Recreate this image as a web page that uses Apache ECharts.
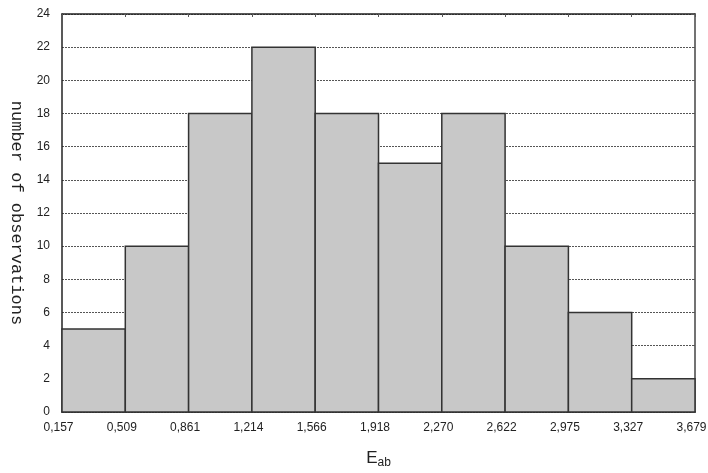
<!DOCTYPE html>
<html>
<head>
<meta charset="utf-8">
<script src="https://cdn.jsdelivr.net/npm/echarts@6/dist/echarts.min.js"></script>
<style>
  html, body { margin: 0; padding: 0; background: #fff; }
  #main { width: 708px; height: 473px; }
</style>
</head>
<body>
<div id="main"></div>
<script>
// bin edges (labels) and counts per bin
const edgeLabels = ['0,157', '0,509', '0,861', '1,214', '1,566', '1,918', '2,270', '2,622', '2,975', '3,327', '3,679'];
const counts = [5, 10, 18, 22, 18, 15, 18, 10, 6, 2];
const yTicks = [0, 2, 4, 6, 8, 10, 12, 14, 16, 18, 20, 22, 24];

let chart = echarts.init(document.getElementById('main'));

// each bin goes from index i to i+1 on the x axis
let bins = counts.map(function (c, i) { return [i, i + 1, c]; });

chart.setOption({
  animation: false,
  grid: { left: 62, right: 13, top: 14, bottom: 61, outerBoundsMode: 'none', containLabel: false },
  xAxis: [{
    type: 'value',
    min: 0,
    max: 10,
    interval: 1,
    position: 'bottom',
    axisLine: { onZero: false, lineStyle: { color: '#222', width: 1.5 } },
    axisTick: { show: false },
    splitLine: { show: false },
    axisLabel: {
      color: '#222', fontFamily: 'Liberation Sans', fontSize: 12, margin: 10,
      padding: [0, 7, 0, 0],
      formatter: function (v) { return edgeLabels[v]; }
    },
    name: '{e|E}{s|ab}',
    nameLocation: 'middle',
    nameGap: 36,
    nameTextStyle: {
      rich: {
        e: { fontFamily: 'Liberation Sans', fontSize: 17, color: '#222' },
        s: { fontFamily: 'Liberation Sans', fontSize: 12, color: '#222', verticalAlign: 'bottom', padding: [9, 0, 0, 0] }
      }
    }
  }, {
    type: 'value',
    min: 0,
    max: 10,
    interval: 1,
    position: 'top',
    axisLine: { show: true, onZero: false, lineStyle: { color: '#222', width: 1.5 } },
    axisTick: { show: true, inside: true, length: 3, lineStyle: { color: '#555' } },
    axisLabel: { show: false },
    splitLine: { show: false }
  }],
  yAxis: [{
    type: 'value',
    min: yTicks[0],
    max: yTicks[yTicks.length - 1],
    interval: 2,
    axisLine: { show: true, onZero: false, lineStyle: { color: '#222', width: 1.5 } },
    axisTick: { show: false },
    axisLabel: { color: '#222', fontFamily: 'Liberation Sans', fontSize: 12, margin: 12 },
    splitLine: { lineStyle: { color: '#555', type: [2, 1], width: 1 } },
    name: 'number of observations',
    nameLocation: 'middle',
    nameGap: 37,
    nameRotate: -90,
    nameTextStyle: { fontFamily: 'Liberation Mono', fontSize: 17, color: '#222' }
  }, {
    type: 'value',
    min: yTicks[0],
    max: yTicks[yTicks.length - 1],
    interval: 2,
    position: 'right',
    axisLine: { show: true, onZero: false, lineStyle: { color: '#444', width: 1.5 } },
    axisTick: { show: true, inside: true, length: 3, lineStyle: { color: '#555' } },
    axisLabel: { show: false },
    splitLine: { show: false }
  }],
  series: [{
    type: 'custom',
    data: bins,
    renderItem: function (params, api) {
      let p0 = api.coord([api.value(0), api.value(2)]);
      let p1 = api.coord([api.value(1), 0]);
      return {
        type: 'rect',
        shape: { x: p0[0], y: p0[1], width: p1[0] - p0[0], height: p1[1] - p0[1] },
        style: { fill: '#c8c8c8', stroke: '#333', lineWidth: 1.5 }
      };
    }
  }]
});
</script>
</body>
</html>
